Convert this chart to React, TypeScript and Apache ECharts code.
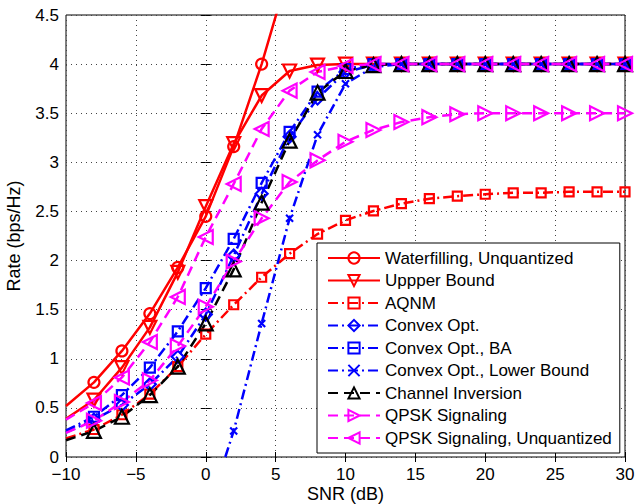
import React, { useEffect, useRef } from "react";
import * as echarts from "echarts";

const snr = [-10, -8, -6, -4, -2, 0, 2, 4, 6, 8, 10, 12, 14, 16, 18, 20, 22, 24, 26, 28, 30];

const waterfilling = [0.52, 0.76, 1.08, 1.46, 1.93, 2.45, 3.16, 4.0, 4.97];
const upperBound = [0.39, 0.58, 0.91, 1.32, 1.88, 2.55, 3.19, 3.68, 3.93, 3.99, 4, 4, 4, 4, 4, 4, 4, 4, 4, 4, 4];
const aqnm = [0.19, 0.28, 0.43, 0.64, 0.92, 1.25, 1.55, 1.83, 2.07, 2.27, 2.41, 2.505, 2.58, 2.63, 2.655, 2.675, 2.69, 2.69, 2.7, 2.7, 2.7];
const convexOpt = [0.25, 0.38, 0.53, 0.74, 1.02, 1.45, 2.05, 2.68, 3.26, 3.65, 3.92, 3.99, 4, 4, 4, 4, 4, 4, 4, 4, 4];
const convexBA = [0.27, 0.41, 0.63, 0.91, 1.28, 1.72, 2.22, 2.79, 3.31, 3.72, 3.95, 4, 4, 4, 4, 4, 4, 4, 4, 4, 4];
const lowerSnr = [1.4, 2, 4, 6, 8, 10, 12, 14, 16, 18, 20, 22, 24, 26, 28, 30];
const lowerBound = [0, 0.265, 1.36, 2.43, 3.28, 3.8, 3.97, 4, 4, 4, 4, 4, 4, 4, 4, 4];
const chanInv = [0.17, 0.265, 0.41, 0.63, 0.92, 1.36, 1.91, 2.59, 3.22, 3.71, 3.93, 3.99, 4, 4, 4, 4, 4, 4, 4, 4, 4];
const qpsk = [0.245, 0.37, 0.56, 0.78, 1.13, 1.53, 1.99, 2.43, 2.8, 3.02, 3.21, 3.33, 3.41, 3.46, 3.49, 3.5, 3.5, 3.5, 3.5, 3.5, 3.5];
const qpskUnq = [0.38, 0.55, 0.81, 1.17, 1.63, 2.24, 2.78, 3.34, 3.73, 3.92, 3.98, 4, 4, 4, 4, 4, 4, 4, 4, 4, 4];

const FONT = "Liberation Sans, Arial, sans-serif";

function toData(xs: number[], vals: number[]) {
  return vals.map((v, i) =>
    i === 0 ? { value: [xs[i], v], symbol: "none" } : { value: [xs[i], v] }
  );
}

function mk(
  name: string,
  xs: number[],
  vals: number[],
  color: string,
  symbol: string,
  size: number,
  rotate: number,
  dash: any
) {
  return {
    name,
    type: "line",
    data: toData(xs, vals),
    symbol,
    symbolSize: size,
    symbolRotate: rotate,
    showSymbol: true,
    clip: true,
    lineStyle: { color, width: 2.5, type: dash },
    itemStyle: { color: "rgba(255,255,255,0)", borderColor: color, borderWidth: 2.2 },
    emphasis: { disabled: true },
  };
}

export default function App() {
  const ref = useRef<HTMLDivElement>(null);
  useEffect(() => {
    if (!ref.current) return;
    const chart = echarts.init(ref.current, undefined, { renderer: "svg" });
    const dashDot = [10, 4, 2, 4];
    const dashed = [10, 6];
    const xPath = "path://M0,0L10,10M10,0L0,10";
    const axisCommon = {
      type: "value",
      axisLine: { show: false },
      axisTick: { show: true, inside: true, length: 5, lineStyle: { color: "#000" } },
    };
    chart.setOption({
      animation: false,
      grid: {
        left: 66,
        right: 10,
        top: 15,
        bottom: 47,
        show: true,
        borderColor: "#000",
        borderWidth: 1,
        backgroundColor: "#fff",
        containLabel: false,
        outerBoundsMode: "none",
      },
      xAxis: [
        {
          ...axisCommon,
          min: -10,
          max: 30,
          interval: 5,
          name: "SNR (dB)",
          nameLocation: "middle",
          nameGap: 27,
          nameMoveOverlap: false,
          nameTextStyle: { fontFamily: FONT, fontSize: 18, color: "#000", lineHeight: 19 },
          axisLabel: {
            fontFamily: FONT,
            fontSize: 17,
            color: "#000",
            margin: 9,
            lineHeight: 16,
            formatter: (v: number) => String(v).replace("-", "\u2212"),
          },
          splitLine: { show: true, lineStyle: { color: "#444", type: [1, 4], width: 1 } },
        },
        {
          ...axisCommon,
          position: "top",
          min: -10,
          max: 30,
          interval: 5,
          axisLabel: { show: false },
          splitLine: { show: false },
        },
      ],
      yAxis: [
        {
          ...axisCommon,
          min: 0,
          max: 4.5,
          interval: 0.5,
          name: "Rate (bps/Hz)",
          nameLocation: "middle",
          nameGap: 43,
          nameMoveOverlap: false,
          nameTextStyle: { fontFamily: FONT, fontSize: 18, color: "#000", lineHeight: 19 },
          axisLabel: { fontFamily: FONT, fontSize: 17, color: "#000", margin: 7, lineHeight: 14 },
          splitLine: { show: true, lineStyle: { color: "#444", type: [1, 4], width: 1 } },
        },
        {
          ...axisCommon,
          position: "right",
          min: 0,
          max: 4.5,
          interval: 0.5,
          axisLabel: { show: false },
          splitLine: { show: false },
        },
      ],
      legend: {
        orient: "vertical",
        left: 317,
        top: 243,
        padding: [6, 8, 6, 10],
        backgroundColor: "#fff",
        borderColor: "#000",
        borderWidth: 1,
        borderRadius: 0,
        itemWidth: 52,
        itemHeight: 14,
        itemGap: 4.5,
        textStyle: { fontFamily: FONT, fontSize: 17, color: "#000", lineHeight: 18 },
        data: [
          "Waterfilling, Unquantized",
          "Uppper Bound",
          "AQNM",
          "Convex Opt.",
          "Convex Opt., BA",
          "Convex Opt., Lower Bound",
          "Channel Inversion",
          "QPSK Signaling",
          "QPSK Signaling, Unquantized",
        ],
      },
      series: [
        mk("Waterfilling, Unquantized", snr, waterfilling, "#ff0000", "circle", 11, 0, "solid"),
        mk("Uppper Bound", snr, upperBound, "#ff0000", "triangle", 13, 180, "solid"),
        mk("AQNM", snr, aqnm, "#ff0000", "rect", 9, 0, dashDot),
        mk("Convex Opt.", snr, convexOpt, "#0000ff", "diamond", 12, 0, dashDot),
        mk("Convex Opt., BA", snr, convexBA, "#0000ff", "rect", 10, 0, dashDot),
        mk("Convex Opt., Lower Bound", lowerSnr, lowerBound, "#0000ff", xPath, 7, 0, dashDot),
        mk("Channel Inversion", snr, chanInv, "#000000", "triangle", 14, 0, dashed),
        mk("QPSK Signaling", snr, qpsk, "#ff00ff", "triangle", 14, -90, dashed),
        mk("QPSK Signaling, Unquantized", snr, qpskUnq, "#ff00ff", "triangle", 14, 90, dashed),
      ],
    });
    return () => chart.dispose();
  }, []);
  return <div ref={ref} style={{ width: 635, height: 504, position: "absolute", left: 0, top: 0 }} />;
}
